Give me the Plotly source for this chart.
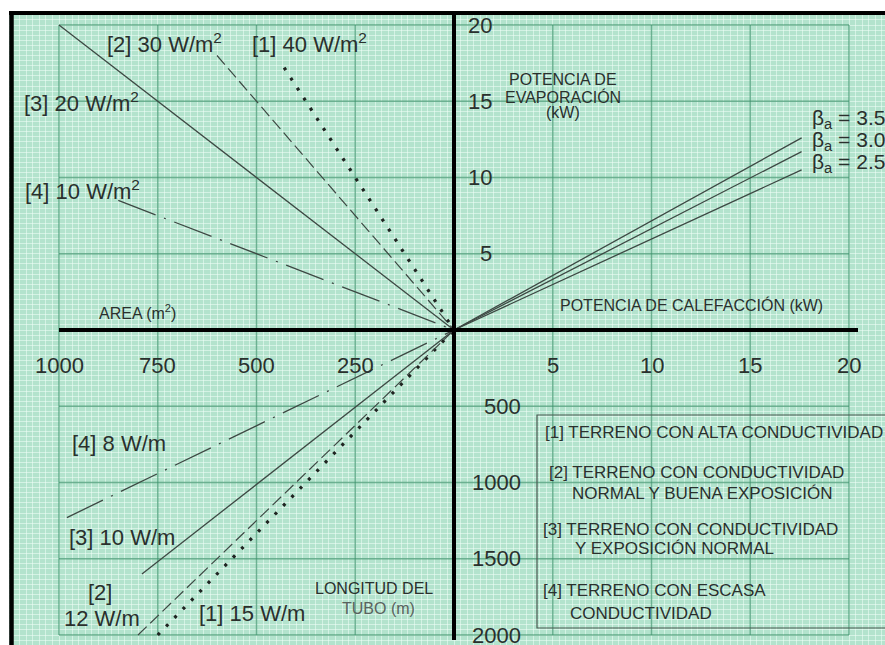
import plotly.graph_objects as go

# ---- data -------------------------------------------------------------
# Upper-left quadrant: collector area (m²) against evaporation power (kW)
area_names = ["[1] 40 W/m<sup>2</sup>", "[2] 30 W/m<sup>2</sup>",
              "[3] 20 W/m<sup>2</sup>", "[4] 10 W/m<sup>2</sup>"]
area_m2_end = [430, 600, 1000, 850]
area_kw_end = [17.2, 18.0, 20.0, 8.5]

# Lower-left quadrant: area scale against pipe length (m)
pipe_names = ["[1] 15 W/m", "[2] 12 W/m", "[3] 10 W/m", "[4] 8 W/m"]
pipe_area_end = [750, 800, 790, 980]
pipe_len_end = [2000, 2000, 1600, 1230]

# Upper-right quadrant: heating power vs evaporation power for each beta
beta_values = ["3.5", "3.0", "2.5"]
heat_kw_end = [17.6, 17.6, 17.6]
evap_kw_end = [12.6, 11.7, 10.5]

# Axis tick labels
area_ticks = [1000, 750, 500, 250]
heat_ticks = [5, 10, 15, 20]
evap_ticks = [20, 15, 10, 5]
length_ticks = [500, 1000, 1500, 2000]

legend_lines = [
    "[1] TERRENO CON ALTA CONDUCTIVIDAD",
    "[2] TERRENO CON CONDUCTIVIDAD",
    "NORMAL Y BUENA EXPOSICIÓN",
    "[3] TERRENO CON CONDUCTIVIDAD",
    "Y EXPOSICIÓN NORMAL",
    "[4] TERRENO CON ESCASA",
    "CONDUCTIVIDAD",
]

# ---- geometry ---------------------------------------------------------
W, H = 885, 645
OX, OY = 454, 330          # pixel position of the origin
SX, SY = 19.75, 15.25      # pixels per unit
AREA_PER_UNIT = 50.0       # 1000 m² sits on -20
LEN_PER_UNIT = 100.0       # 2000 m sits on -20

def ax_x(area):
    return -area / AREA_PER_UNIT

def ax_y(length):
    return -length / LEN_PER_UNIT

def px(xp):
    return xp / W

def py(yp):
    return 1 - yp / H

INK = "#3d4843"
BG = "#b3e3cd"
FINE = "rgba(238,255,247,0.55)"
MAJOR = "rgba(62,148,110,0.7)"
FONT = "Liberation Sans, Arial, sans-serif"
TXT = "#2a302d"

styles = [
    dict(dash="3px,9px", width=3.2, color="#1f2421"),
    dict(dash="12px,5px", width=1.2, color=INK),
    dict(dash="solid", width=1.3, color=INK),
    dict(dash="40px,9px,2px,9px", width=1.3, color=INK),
]

fig = go.Figure()

for i in range(4):
    fig.add_trace(go.Scatter(
        x=[ax_x(area_m2_end[i]), 0], y=[area_kw_end[i], 0],
        mode="lines", line=styles[i], hoverinfo="skip", showlegend=False))
    fig.add_trace(go.Scatter(
        x=[ax_x(pipe_area_end[i]), 0], y=[ax_y(pipe_len_end[i]), 0],
        mode="lines", line=styles[i], hoverinfo="skip", showlegend=False))

for i in range(3):
    fig.add_trace(go.Scatter(
        x=[0, heat_kw_end[i]], y=[0, evap_kw_end[i]],
        mode="lines", line=dict(color=INK, width=1.3),
        hoverinfo="skip", showlegend=False))

shapes = []
# major grid of the nomogram
for v in [-20, -15, -10, -5, 5, 10, 15, 20]:
    shapes.append(dict(type="line", x0=v, x1=v, y0=-20, y1=20,
                       line=dict(color=MAJOR, width=1.4), layer="between"))
    shapes.append(dict(type="line", x0=-20, x1=20, y0=v, y1=v,
                       line=dict(color=MAJOR, width=1.4), layer="between"))

# description box
shapes.append(dict(type="rect", x0=(537 - OX) / SX, x1=30,
                   y0=(OY - 628) / SY, y1=(OY - 415) / SY,
                   line=dict(color="#4a5851", width=1.2),
                   fillcolor="rgba(0,0,0,0)", layer="between"))

# main axes
shapes.append(dict(type="line", x0=-20, x1=(858 - OX) / SX, y0=0, y1=0,
                   line=dict(color="black", width=4), layer="above"))
shapes.append(dict(type="line", x0=0, x1=0, y0=(OY - 640) / SY, y1=30,
                   line=dict(color="black", width=4), layer="above"))

# outer frame
shapes.append(dict(type="rect", xref="paper", yref="paper", x0=0, x1=1,
                   y0=py(11), y1=1.02, fillcolor="white", line_width=0,
                   layer="above"))
shapes.append(dict(type="rect", xref="paper", yref="paper", x0=-0.02,
                   x1=px(9), y0=-0.02, y1=1.02, fillcolor="white",
                   line_width=0, layer="above"))
shapes.append(dict(type="line", xref="paper", yref="paper", x0=px(9),
                   x1=1.02, y0=py(13), y1=py(13),
                   line=dict(color="black", width=4), layer="above"))
shapes.append(dict(type="line", xref="paper", yref="paper", x0=px(11.5),
                   x1=px(11.5), y0=-0.02, y1=py(11),
                   line=dict(color="black", width=4.5), layer="above"))

ann = []

def label(text, xp, yp, size, anchor="left", color=TXT):
    ann.append(dict(text=text, x=px(xp), y=py(yp), xref="paper",
                    yref="paper", xanchor=anchor, yanchor="middle",
                    showarrow=False,
                    font=dict(family=FONT, size=size, color=color)))

# tick labels
for a in area_ticks:
    ann.append(dict(text=str(a), x=ax_x(a), y=py(365), xref="x",
                    yref="paper", xanchor="center", yanchor="middle",
                    showarrow=False,
                    font=dict(family=FONT, size=22, color=TXT)))
for h in heat_ticks:
    ann.append(dict(text=str(h), x=h, y=py(365), xref="x", yref="paper",
                    xanchor="center", yanchor="middle", showarrow=False,
                    font=dict(family=FONT, size=22, color=TXT)))
for e in evap_ticks:
    ann.append(dict(text=str(e), x=px(494), y=e, xref="paper", yref="y",
                    xanchor="right", yanchor="middle", showarrow=False,
                    font=dict(family=FONT, size=22, color=TXT)))
for L in length_ticks:
    ann.append(dict(text=str(L), x=px(523), y=ax_y(L), xref="paper",
                    yref="y", xanchor="right", yanchor="middle",
                    showarrow=False,
                    font=dict(family=FONT, size=22, color=TXT)))

# series labels, upper-left
label(area_names[1], 105, 43, 22)
label(area_names[0], 250, 43, 22)
label(area_names[2], 22, 102, 22)
label(area_names[3], 23, 190, 22)
label("AREA (m<sup>2</sup>)", 97, 312, 16)

# upper-right
label("POTENCIA DE", 563, 79, 16, "center")
label("EVAPORACIÓN", 563, 97, 16, "center")
label("(kW)", 563, 113, 16, "center")
label("POTENCIA DE CALEFACCIÓN (kW)", 558, 305, 16)
for b, yp in zip(beta_values, [119, 141, 163]):
    label("β<sub>a</sub> = " + b, 810, yp, 21)

# lower-left
label(pipe_names[3], 70, 443, 22)
label(pipe_names[2], 67, 537, 22)
label("[2]", 100, 592, 22, "center")
label(pipe_names[1].split("] ")[1], 62, 618, 22)
label(pipe_names[0], 197, 613, 22)
label("LONGITUD DEL", 313, 588, 16)
label("TUBO (m)", 340, 608, 16, color="#5a625e")

# description box text
box_pos = [(543, 432), (547, 473), (570, 493), (541, 529), (573, 548),
           (541, 590), (568, 613)]
for t, (xp, yp) in zip(legend_lines, box_pos):
    label(t, xp, yp, 17)

fig.update_layout(
    width=W, height=H,
    margin=dict(l=0, r=0, t=0, b=0),
    paper_bgcolor=BG, plot_bgcolor=BG,
    showlegend=False,
    shapes=shapes, annotations=ann,
    xaxis=dict(range=[-OX / SX, (W - OX) / SX], tick0=0, dtick=1 / 3,
               showgrid=True, gridcolor=FINE, gridwidth=1.2,
               zeroline=False, showticklabels=False, ticks="",
               fixedrange=True),
    yaxis=dict(range=[(OY - H) / SY, OY / SY], tick0=0, dtick=1 / 3,
               showgrid=True, gridcolor=FINE, gridwidth=1.2,
               zeroline=False, showticklabels=False, ticks="",
               fixedrange=True),
)

fig.write_html("out.html")
